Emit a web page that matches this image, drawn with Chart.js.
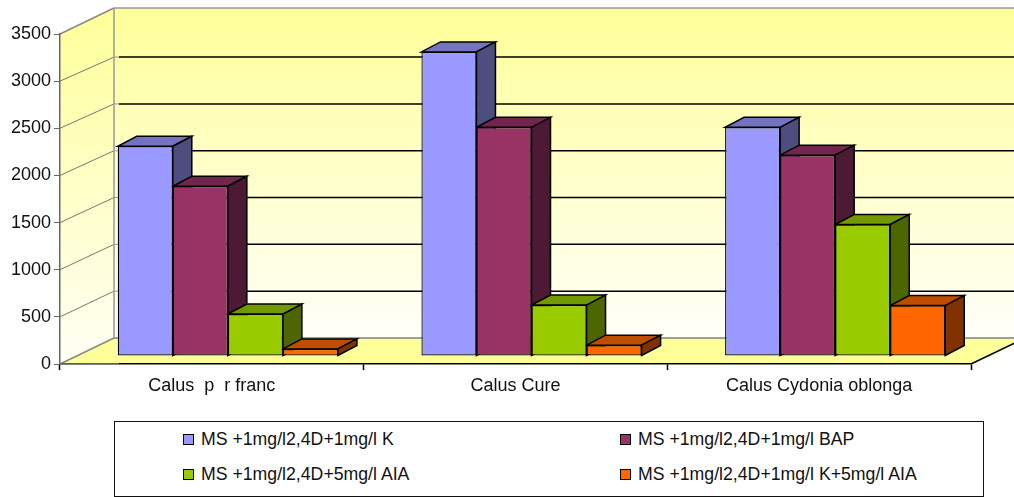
<!DOCTYPE html>
<html>
<head>
<meta charset="utf-8">
<title>Calus</title>
<script src="https://cdn.jsdelivr.net/npm/chart.js@4"></script>
<style>
    html, body { margin: 0; padding: 0; background: #fff; overflow: hidden; }
    #wrap { position: relative; width: 1014px; height: 497px; }
    #chart { display: block; }
    #legend {
        position: absolute; left: 114px; top: 421px; width: 870px; height: 76px;
        border: 1.5px solid #111; background: #fff; box-sizing: border-box;
        padding: 0 0 0 68px; display: grid; grid-template-columns: 437px 1fr; grid-auto-rows: 35px;
        font: 17.7px "Liberation Sans", Arial, sans-serif; color: #111;
    }
    #legend div { display: flex; align-items: center; height: 35px; white-space: pre; }
    #legend i { display: block; width: 9px; height: 9px; border: 1.5px solid #000; margin-right: 7px; }
</style>
</head>
<body>
<div id="wrap">
    <canvas id="chart" width="1014" height="497"></canvas>
    <div id="legend"></div>
</div>
<script>
"use strict";

var categories = ['Calus  p  r franc', 'Calus Cure', 'Calus Cydonia oblonga'];
var seriesNames = [
    'MS +1mg/l2,4D+1mg/l K',
    'MS +1mg/l2,4D+1mg/l BAP',
    'MS +1mg/l2,4D+5mg/l AIA',
    'MS +1mg/l2,4D+1mg/l K+5mg/l AIA'
];
var seriesK = [2225, 3225, 2425];
var seriesBap = [1800, 2425, 2130];
var seriesAia = [445, 540, 1395];
var seriesKAia = [75, 115, 535];

var frontColors = ['#9999FF', '#993366', '#99CC00', '#FF6600'];
var topColors = ['#7373BF', '#73264D', '#739900', '#BF4D00'];
var sideColors = ['#4D4D80', '#4D1A33', '#4D6600', '#803300'];

var wallDx = 54, wallDy = -26;   // depth of the floor
var backScale = 0.993;           // back wall is a little smaller than the front plane
var barShiftX = 16, barShiftY = -8;
var barDx = 19, barDy = -10;     // depth of one bar

function poly(ctx, pts, fill, stroke, width) {
    ctx.beginPath();
    ctx.moveTo(pts[0][0], pts[0][1]);
    for (var i = 1; i < pts.length; i++) {
        ctx.lineTo(pts[i][0], pts[i][1]);
    }
    if (fill) {
        ctx.closePath();
        ctx.fillStyle = fill;
        ctx.fill();
    }
    if (stroke) {
        ctx.strokeStyle = stroke;
        ctx.lineWidth = width;
        ctx.stroke();
    }
}

var box3d = {
    id: 'box3d',
    // walls and floor go under the axes
    beforeDraw: function (chart) {
        var ctx = chart.ctx, a = chart.chartArea, y = chart.scales.y;
        var l = a.left, r = a.right, t = a.top, b = a.bottom;
        ctx.save();
        var gBack = ctx.createLinearGradient(0, t + wallDy, 0, b + wallDy);
        gBack.addColorStop(0, '#FFFF99');
        gBack.addColorStop(1, '#FFFFFA');
        poly(ctx, [[l + wallDx, t + wallDy], [r + wallDx, t + wallDy], [r + wallDx, b + wallDy], [l + wallDx, b + wallDy]], gBack);
        var gSide = ctx.createLinearGradient(0, t + wallDy, 0, b);
        gSide.addColorStop(0, '#FFFF99');
        gSide.addColorStop(1, '#FFFFF5');
        poly(ctx, [[l, t], [l + wallDx, t + wallDy], [l + wallDx, b + wallDy], [l, b]], gSide);
        poly(ctx, [[l, b], [r, b], [r + wallDx, b + wallDy], [l + wallDx, b + wallDy]], '#FFFF99');

        y.ticks.forEach(function (tick) {
            var py = y.getPixelForValue(tick.value);
            var backY = b + wallDy - (b - py) * backScale;
            if (tick.value > 0 && tick.value < y.max) {
                poly(ctx, [[l, py], [l + wallDx, backY]], null, '#777', 1);
                poly(ctx, [[l + wallDx + 5, backY], [r + wallDx, backY]], null, '#000', 1.5);
                poly(ctx, [[l + wallDx, backY], [l + wallDx + 5, backY]], null, '#999', 1);
            }
        });
        poly(ctx, [[l + wallDx, b + wallDy], [r + wallDx, b + wallDy]], null, '#808080', 1.5);
        poly(ctx, [[l + wallDx, t + wallDy], [r + wallDx, t + wallDy]], null, '#999', 1.5);
        poly(ctx, [[l + wallDx, t + wallDy], [l + wallDx, b + wallDy]], null, '#999', 1.5);
        poly(ctx, [[l, t], [l + wallDx, t + wallDy]], null, '#888', 1.5);
        poly(ctx, [[l, b], [l + wallDx, b + wallDy]], null, '#888', 1.5);
        poly(ctx, [[r, b], [r + wallDx, b + wallDy]], null, '#000', 1.5);
        ctx.restore();
    },
    // tops and sides first, left to right, the library then paints the front faces over them
    beforeDatasetsDraw: function (chart) {
        var ctx = chart.ctx, a = chart.chartArea;
        poly(ctx, [[a.left, a.bottom], [a.left + wallDx + 5, a.bottom]], null, '#808080', 1.5);
        ctx.save();
        ctx.translate(barShiftX, barShiftY);
        ctx.lineJoin = 'miter';
        chart.data.datasets.forEach(function (ds, i) {
            chart.getDatasetMeta(i).data.forEach(function (bar) {
                var x0 = bar.x - bar.width / 2, x1 = bar.x + bar.width / 2;
                poly(ctx, [[x0, bar.y], [x1, bar.y], [x1 + barDx, bar.y + barDy], [x0 + barDx, bar.y + barDy]], topColors[i], '#000', 1.5);
                poly(ctx, [[x1, bar.y], [x1 + barDx, bar.y + barDy], [x1 + barDx, bar.base + barDy], [x1, bar.base]], sideColors[i], '#000', 1.5);
            });
        });
    },
    afterDatasetsDraw: function (chart) {
        chart.ctx.restore();
    }
};

var seriesValues = [seriesK, seriesBap, seriesAia, seriesKAia];
var datasets = seriesNames.map(function (name, i) {
    return {
        label: name,
        data: seriesValues[i],
        backgroundColor: frontColors[i],
        borderColor: '#000',
        borderWidth: 1.25,
        borderSkipped: false,
        categoryPercentage: 0.725,
        barPercentage: 1,
        clip: false
    };
});

new Chart(document.getElementById('chart'), {
    type: 'bar',
    data: { labels: categories, datasets: datasets },
    plugins: [box3d],
    options: {
        responsive: false,
        animation: false,
        layout: { padding: { top: 34, right: 43, left: 0, bottom: 0 } },
        plugins: { legend: { display: false }, tooltip: { enabled: false } },
        scales: {
            x: {
                offset: true,
                grid: { offset: true, drawOnChartArea: false, tickLength: 6, tickColor: '#000', tickWidth: 1.5 },
                border: { color: '#000', width: 1.5 },
                ticks: { color: '#111', padding: 5, maxRotation: 0, font: { family: '"Liberation Sans"', size: 18 } },
                afterFit: function (scale) { scale.height = 133; }
            },
            y: {
                min: 0,
                max: 3500,
                grid: { drawOnChartArea: false, tickLength: 6, tickColor: '#666', tickWidth: 1 },
                border: { color: '#666', width: 1.5 },
                ticks: {
                    stepSize: 500, color: '#111', padding: 3,
                    font: { family: '"Liberation Sans"', size: 18 },
                    callback: function (v) { return String(v); }
                },
                afterFit: function (scale) { scale.width = 60; }
            }
        }
    }
});

var legendEl = document.getElementById('legend');
seriesNames.forEach(function (name, i) {
    var item = document.createElement('div');
    var swatch = document.createElement('i');
    swatch.style.background = frontColors[i];
    item.appendChild(swatch);
    item.appendChild(document.createTextNode(name));
    legendEl.appendChild(item);
});
</script>
</body>
</html>
